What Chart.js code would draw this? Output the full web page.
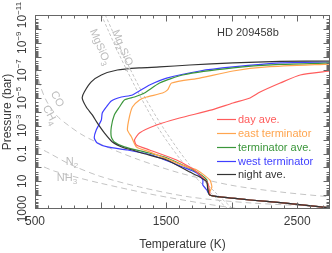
<!DOCTYPE html>
<html><head><meta charset="utf-8">
<script src="https://cdn.jsdelivr.net/npm/chart.js@4/dist/chart.umd.min.js"></script>
<style>html,body{margin:0;padding:0;background:#fff;}canvas{display:block;}</style>
</head><body>
<canvas id="c" width="332" height="253"></canvas>
<script>
// ---- data (temperature in K, log10 pressure in bar) ----
const xTickLabels = [500, 1500, 2500];
const yTickExps = [3, 1, -1, -3, -5, -7, -9, -11];
const seriesNames = ['day ave.', 'east terminator', 'terminator ave.', 'west terminator', 'night ave.'];
const seriesColors = ['#ff5c5c', '#ffa54f', '#3b963b', '#3f3fff', '#333333'];

const deepT    = [1833, 1910, 2140, 2393, 2750];
const deepLogP = [1.99, 2.13, 2.35, 2.56, 2.92];

const dayT    = [2750, 2523, 2370, 2217, 2140, 2010, 1849, 1603, 1427, 1297, 1259, 1274, 1374, 1580, 1680, 1734, 1818, 1833];
const dayLogP = [-6.96, -6.67, -6.09, -5.44, -5.01, -4.65, -4.15, -3.57, -3.06, -2.49, -1.98, -1.62, -1.26, -0.54, -0.03, 0.33, 1.12, 1.84];

const eastT    = [2750, 2270, 2010, 1757, 1542, 1511, 1473, 1351, 1297, 1243, 1220, 1205, 1236, 1274, 1374, 1657, 1734, 1833, 1849, 1833];
const eastLogP = [-7.46, -7.25, -6.96, -6.45, -6.09, -5.59, -5.37, -5.08, -4.87, -4.36, -3.64, -2.70, -2.20, -1.48, -1.12, -0.03, 0.18, 0.90, 1.41, 1.77];

const termT    = [2750, 2370, 2010, 1626, 1450, 1335, 1259, 1182, 1144, 1105, 1082, 1082, 1105, 1182, 1335, 1489, 1626, 1734, 1810, 1818];
const termLogP = [-7.54, -7.43, -7.18, -6.67, -6.09, -5.37, -5.08, -4.87, -4.36, -3.79, -2.92, -2.20, -1.84, -1.48, -1.12, -0.75, -0.18, 0.33, 0.90, 1.41];

const westT    = [2750, 2370, 2010, 1757, 1504, 1374, 1243, 1159, 1082, 1044, 1013, 1006, 967, 952, 975, 1052, 1205, 1389, 1626, 1734, 1780, 1780, 1810];
const westLogP = [-7.61, -7.54, -7.25, -6.96, -6.45, -5.95, -5.23, -5.08, -4.80, -4.36, -3.93, -3.42, -2.70, -2.13, -1.76, -1.48, -1.26, -0.90, -0.03, 0.40, 0.90, 1.27, 1.63];

const nightT    = [2750, 2370, 2010, 1680, 1450, 1297, 1128, 1006, 929, 876, 860, 891, 937, 975, 1029, 1090, 1182, 1243, 1312, 1504, 1680, 1757, 1810, 1818];
const nightLogP = [-7.68, -7.65, -7.54, -7.39, -7.25, -7.18, -7.03, -6.67, -6.17, -5.44, -5.01, -4.36, -3.79, -3.21, -2.49, -1.84, -1.40, -1.26, -1.04, -0.54, 0.33, 0.69, 1.05, 1.63];

// condensation / chemical boundary curves
const coch4T    = [508, 546, 592, 669, 761, 875, 1067, 1297, 1603, 1987, 2370, 2753];
const coch4LogP = [-7.03, -5.73, -4.72, -3.71, -2.99, -2.27, -1.40, -0.54, 0.40, 1.27, 1.77, 2.13];
const n2nh3T    = [500, 607, 761, 990, 1297, 1680, 2140, 2753];
const n2nh3LogP = [-1.55, -1.04, -0.25, 0.62, 1.41, 2.13, 2.56, 2.85];
const lowerT    = [569, 646, 837, 990, 1374, 1757, 2063];
const lowerLogP = [-0.03, 0.26, 0.76, 1.12, 1.91, 2.56, 3.0];
const mgsio3T    = [1006, 1144, 1297, 1450, 1642, 1833, 1971];
const mgsio3LogP = [-11, -8.11, -5.23, -2.70, -0.18, 1.77, 3.0];
const mg2sio4T    = [1036, 1174, 1328, 1489, 1680, 1872, 2010];
const mg2sio4LogP = [-11, -8.11, -5.23, -2.70, -0.18, 1.77, 3.0];

function pts(T, L) { return T.map((t, i) => ({x: t, y: Math.pow(10, L[i])})); }
function withDeep(T, L) { return pts(T.concat(deepT), L.concat(deepLogP)); }

const FONT = '"Liberation Sans", Arial, sans-serif';
const TXT = '#3a3a3a';
const GRAY = '#c4c4c4';

function prof(i, T, L) {
  return {label: seriesNames[i], data: withDeep(T, L), borderColor: seriesColors[i], borderWidth: 1.2,
          showLine: true, pointRadius: 0, tension: 0.2, fill: false};
}
function gray(T, L, dash) {
  return {label: '', data: pts(T, L), borderColor: GRAY, borderWidth: 1, borderDash: dash,
          showLine: true, pointRadius: 0, tension: 0.3, fill: false};
}

const datasets = [
  prof(4, nightT, nightLogP),
  prof(0, dayT, dayLogP),
  prof(1, eastT, eastLogP),
  prof(2, termT, termLogP),
  prof(3, westT, westLogP),
  gray(coch4T, coch4LogP, [6, 4]),
  gray(n2nh3T, n2nh3LogP, [6, 4]),
  gray(lowerT, lowerLogP, [6, 4]),
  gray(mgsio3T, mgsio3LogP, [3, 2]),
  gray(mg2sio4T, mg2sio4LogP, [3, 2])
];

function chem(ctx, parts, x, y, ang, size, color) {
  ctx.save();
  ctx.translate(x, y);
  ctx.rotate(ang * Math.PI / 180);
  ctx.fillStyle = color;
  ctx.textBaseline = 'middle';
  ctx.textAlign = 'left';
  let w = 0;
  const sub = Math.round(size * 0.7);
  parts.forEach(p => { ctx.font = (p[1] ? sub : size) + 'px ' + FONT; w += ctx.measureText(p[0]).width; });
  let cx = -w / 2;
  parts.forEach(p => {
    ctx.font = (p[1] ? sub : size) + 'px ' + FONT;
    ctx.fillText(p[0], cx, p[1] * size * 0.35);
    cx += ctx.measureText(p[0]).width;
  });
  ctx.restore();
}

const framePlugin = {
  id: 'frame',
  afterDatasetsDraw(chart) {
    const {ctx, chartArea: a, scales: {x, y}} = chart;
    ctx.save();
    ctx.strokeStyle = '#666';
    ctx.lineWidth = 1;
    const L = Math.round(a.left) + 0.5, R = Math.round(a.right) - 0.5;
    const Tp = Math.round(a.top) + 0.5, B = Math.round(a.bottom) - 0.5;
    ctx.strokeRect(L, Tp, R - L, B - Tp);
    ctx.beginPath();
    for (let k = 0; k <= 22; k++) {
      const t = 500 + k * 100;
      const px = Math.round(x.getPixelForValue(t)) + 0.5;
      const len = (t % 500 === 0) ? 6 : 3;
      ctx.moveTo(px, B); ctx.lineTo(px, B - len);
      ctx.moveTo(px, Tp); ctx.lineTo(px, Tp + len);
    }
    for (let e = -11; e <= 2; e++) {
      for (let m = 1; m <= 9; m++) {
        const py = Math.round(y.getPixelForValue(m * Math.pow(10, e))) + 0.5;
        const len = m === 1 ? 6 : 3;
        ctx.moveTo(L, py); ctx.lineTo(L + len, py);
        ctx.moveTo(R, py); ctx.lineTo(R - len, py);
      }
    }
    ctx.stroke();

    // y tick labels (rotated)
    yTickExps.forEach(e => {
      const py = y.getPixelForValue(Math.pow(10, e));
      let parts;
      if (e === 3) parts = [['1000', 0]];
      else if (e === 1) parts = [['10', 0]];
      else if (e === -1) parts = [['0.1', 0]];
      else parts = [['10', 0], ['\u2212' + (-e), -1]];
      chem(ctx, parts, 23, py, -90, 12, TXT);
    });

    // title
    ctx.fillStyle = TXT;
    ctx.font = '11px ' + FONT;
    ctx.textBaseline = 'middle';
    ctx.textAlign = 'left';
    ctx.fillText('HD 209458b', 217, 33);

    // legend
    const rows = [119, 133, 147, 161, 174];
    seriesNames.forEach((n, i) => {
      ctx.strokeStyle = seriesColors[i];
      ctx.lineWidth = 1.2;
      ctx.beginPath(); ctx.moveTo(217, rows[i] + 0.5); ctx.lineTo(236, rows[i] + 0.5); ctx.stroke();
      ctx.fillStyle = seriesColors[i];
      ctx.font = '11px ' + FONT;
      ctx.fillText(n, 238, rows[i] + 1);
    });

    // curve labels
    const gc = '#bdbdbd';
    chem(ctx, [['CO', 0]], 57, 99, 62, 11, gc);
    chem(ctx, [['CH', 0], ['4', 1]], 50, 115, 62, 11, gc);
    chem(ctx, [['N', 0], ['2', 1]], 72, 162, 0, 11, gc);
    chem(ctx, [['NH', 0], ['3', 1]], 67, 178, 0, 11, gc);
    chem(ctx, [['MgSiO', 0], ['3', 1]], 100, 47, 67, 11, gc);
    chem(ctx, [['Mg', 0], ['2', 1], ['SiO', 0], ['4', 1]], 123, 50, 67, 11, gc);
    ctx.restore();
  }
};

new Chart(document.getElementById('c'), {
  type: 'scatter',
  data: {datasets},
  options: {
    responsive: false,
    devicePixelRatio: 1,
    animation: false,
    layout: {padding: {left: 0, right: 2, top: 15, bottom: 0}},
    plugins: {legend: {display: false}, tooltip: {enabled: false}},
    scales: {
      x: {
        type: 'linear', min: 500, max: 2750, position: 'bottom',
        afterBuildTicks: s => { s.ticks = xTickLabels.map(v => ({value: v})); },
        afterFit: s => { s.height = 44; },
        grid: {display: false, drawTicks: false},
        border: {display: false},
        ticks: {padding: 5, color: TXT, font: {size: 12, family: FONT}, maxRotation: 0, autoSkip: false,
                callback: v => String(v)},
        title: {display: true, text: 'Temperature (K)', color: TXT, font: {size: 12, family: FONT}, padding: {top: 0, bottom: 1}}
      },
      y: {
        type: 'logarithmic', min: 1e-11, max: 1e3, reverse: true, position: 'left',
        afterBuildTicks: s => { s.ticks = yTickExps.map(e => ({value: Math.pow(10, e)})); },
        afterFit: s => { s.width = 35; },
        grid: {display: false, drawTicks: false},
        border: {display: false},
        ticks: {display: false},
        title: {display: true, text: 'Pressure (bar)', color: TXT, font: {size: 12, family: FONT}, padding: {top: 0, bottom: 0}}
      }
    }
  },
  plugins: [framePlugin]
});
</script>
</body></html>
